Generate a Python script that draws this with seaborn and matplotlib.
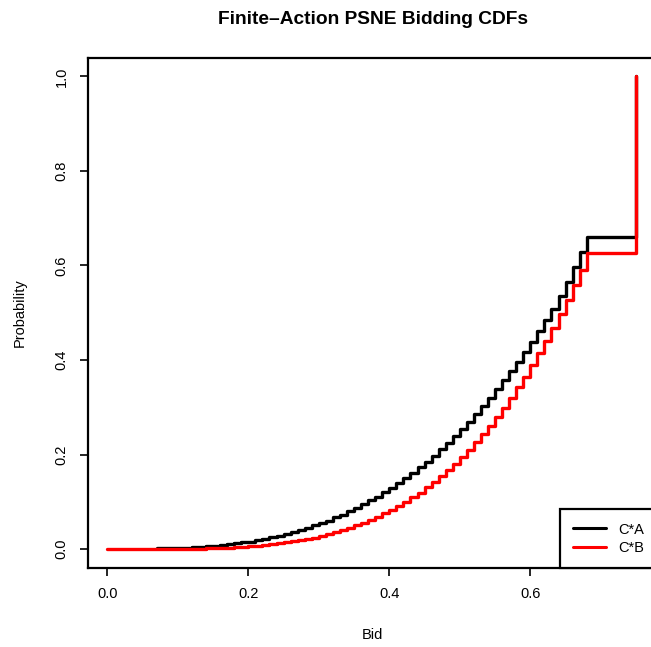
import numpy as np
import pandas as pd
import matplotlib
matplotlib.use("Agg")
import matplotlib.pyplot as plt
import seaborn as sns

# ── Data ─────────────────────────────────────────────────────────────────
BIDS = [0.00, 0.01, 0.02, 0.03, 0.04, 0.05, 0.06, 0.07, 0.08, 0.09,
        0.10, 0.11, 0.12, 0.13, 0.14, 0.15, 0.16, 0.17, 0.18, 0.19,
        0.20, 0.21, 0.22, 0.23, 0.24, 0.25, 0.26, 0.27, 0.28, 0.29,
        0.30, 0.31, 0.32, 0.33, 0.34, 0.35, 0.36, 0.37, 0.38, 0.39,
        0.40, 0.41, 0.42, 0.43, 0.44, 0.45, 0.46, 0.47, 0.48, 0.49,
        0.50, 0.51, 0.52, 0.53, 0.54, 0.55, 0.56, 0.57, 0.58, 0.59,
        0.60, 0.61, 0.62, 0.63, 0.64, 0.65, 0.66, 0.67, 0.68, 0.75]

CDF_A = [np.nan, np.nan, np.nan, np.nan, np.nan, np.nan, np.nan, 0.002, 0.002, 0.002,
         0.003, 0.003, 0.004, 0.005, 0.006, 0.007, 0.008, 0.010, 0.012, 0.014,
         0.016, 0.019, 0.022, 0.025, 0.028, 0.032, 0.036, 0.040, 0.045, 0.050,
         0.055, 0.060, 0.067, 0.073, 0.080, 0.087, 0.095, 0.103, 0.111, 0.120,
         0.130, 0.140, 0.150, 0.161, 0.173, 0.185, 0.198, 0.211, 0.225, 0.239,
         0.254, 0.269, 0.285, 0.302, 0.320, 0.338, 0.357, 0.376, 0.396, 0.417,
         0.439, 0.461, 0.484, 0.508, 0.535, 0.565, 0.596, 0.628, 0.660, 1.000]

CDF_B = [0.0, 0.0, 0.0, 0.0, 0.0, 0.0, 0.0001, 0.0001, 0.0002, 0.0003,
         0.0004, 0.0006, 0.0009, 0.0012, 0.0015, 0.0020, 0.0026, 0.0032, 0.0040, 0.0049,
         0.0060, 0.0072, 0.0086, 0.0102, 0.0120, 0.0140, 0.0162, 0.0187, 0.0215, 0.0245,
         0.0279, 0.0316, 0.0357, 0.0401, 0.0449, 0.0502, 0.0558, 0.0620, 0.0686, 0.0757,
         0.0833, 0.0915, 0.1003, 0.1097, 0.1197, 0.1304, 0.1417, 0.1538, 0.1665, 0.1802,
         0.1945, 0.2098, 0.2258, 0.2427, 0.2606, 0.2794, 0.2992, 0.3200, 0.3419, 0.3648,
         0.3889, 0.4141, 0.4406, 0.4682, 0.4970, 0.5271, 0.5587, 0.5914, 0.6270, 1.000]

SERIES = ['C*A', 'C*B']
COLORS = {'C*A': 'black', 'C*B': 'red'}
X_TICKS = [0.0, 0.2, 0.4, 0.6]
Y_TICKS = [0.0, 0.2, 0.4, 0.6, 0.8, 1.0]

df = pd.DataFrame({
    'Bid': BIDS + BIDS,
    'Probability': CDF_A + CDF_B,
    'Strategy': [SERIES[0]] * len(BIDS) + [SERIES[1]] * len(BIDS),
})

# ── Styling ──────────────────────────────────────────────────────────────
sns.set_style('ticks')
plt.rcParams.update({
    'font.family': ['Liberation Sans', 'DejaVu Sans'],
    'font.size': 10.5,
    'text.color': 'black',
    'axes.labelcolor': 'black',
    'axes.titlecolor': 'black',
})

W, H = 651, 647
fig = plt.figure(figsize=(W / 100, H / 100), dpi=100)
ax = fig.add_axes([88 / W, (H - 568) / H, (657 - 88) / W, (568 - 57.5) / H])

sns.lineplot(data=df, x='Bid', y='Probability', hue='Strategy',
             hue_order=SERIES, palette=COLORS, drawstyle='steps-post',
             linewidth=2.4, estimator=None, sort=False, ax=ax)

ax.set_xlim(-0.0274, 0.7797)
ax.set_ylim(-0.04, 1.04)
ax.set_xticks(X_TICKS)
ax.set_xticklabels([f'{v:.1f}' for v in X_TICKS])
ax.set_yticks(Y_TICKS)
ax.set_yticklabels([f'{v:.1f}' for v in Y_TICKS], rotation=90, va='center')
ax.tick_params(axis='both', length=6, width=1.2, color='black',
               labelsize=10.5, labelcolor='black', pad=8)

for sp in ax.spines.values():
    sp.set_visible(True)
    sp.set_color('black')
    sp.set_linewidth(1.6)

ax.set_title('Finite\u2013Action PSNE Bidding CDFs', fontsize=13.8,
             fontweight='bold', pad=24)
ax.set_xlabel('Bid', fontsize=10.5)
ax.set_ylabel('Probability', fontsize=10.5)
ax.xaxis.set_label_coords(0.5, -0.117)
ax.yaxis.set_label_coords(-0.12, 0.5)
ax.yaxis.label.set_va('center')

handles, labels = ax.get_legend_handles_labels()
leg = ax.legend(handles, labels, loc='lower right', bbox_to_anchor=(1.0, 0.0),
                borderaxespad=0, frameon=True, fancybox=False,
                edgecolor='black', framealpha=1, fontsize=10.5,
                handlelength=2.3, handletextpad=0.8, borderpad=0.9,
                labelspacing=0.3)
leg.get_frame().set_linewidth(1.6)
for line in leg.get_lines():
    line.set_linewidth(2.2)

fig.savefig('out.png', dpi=100)
